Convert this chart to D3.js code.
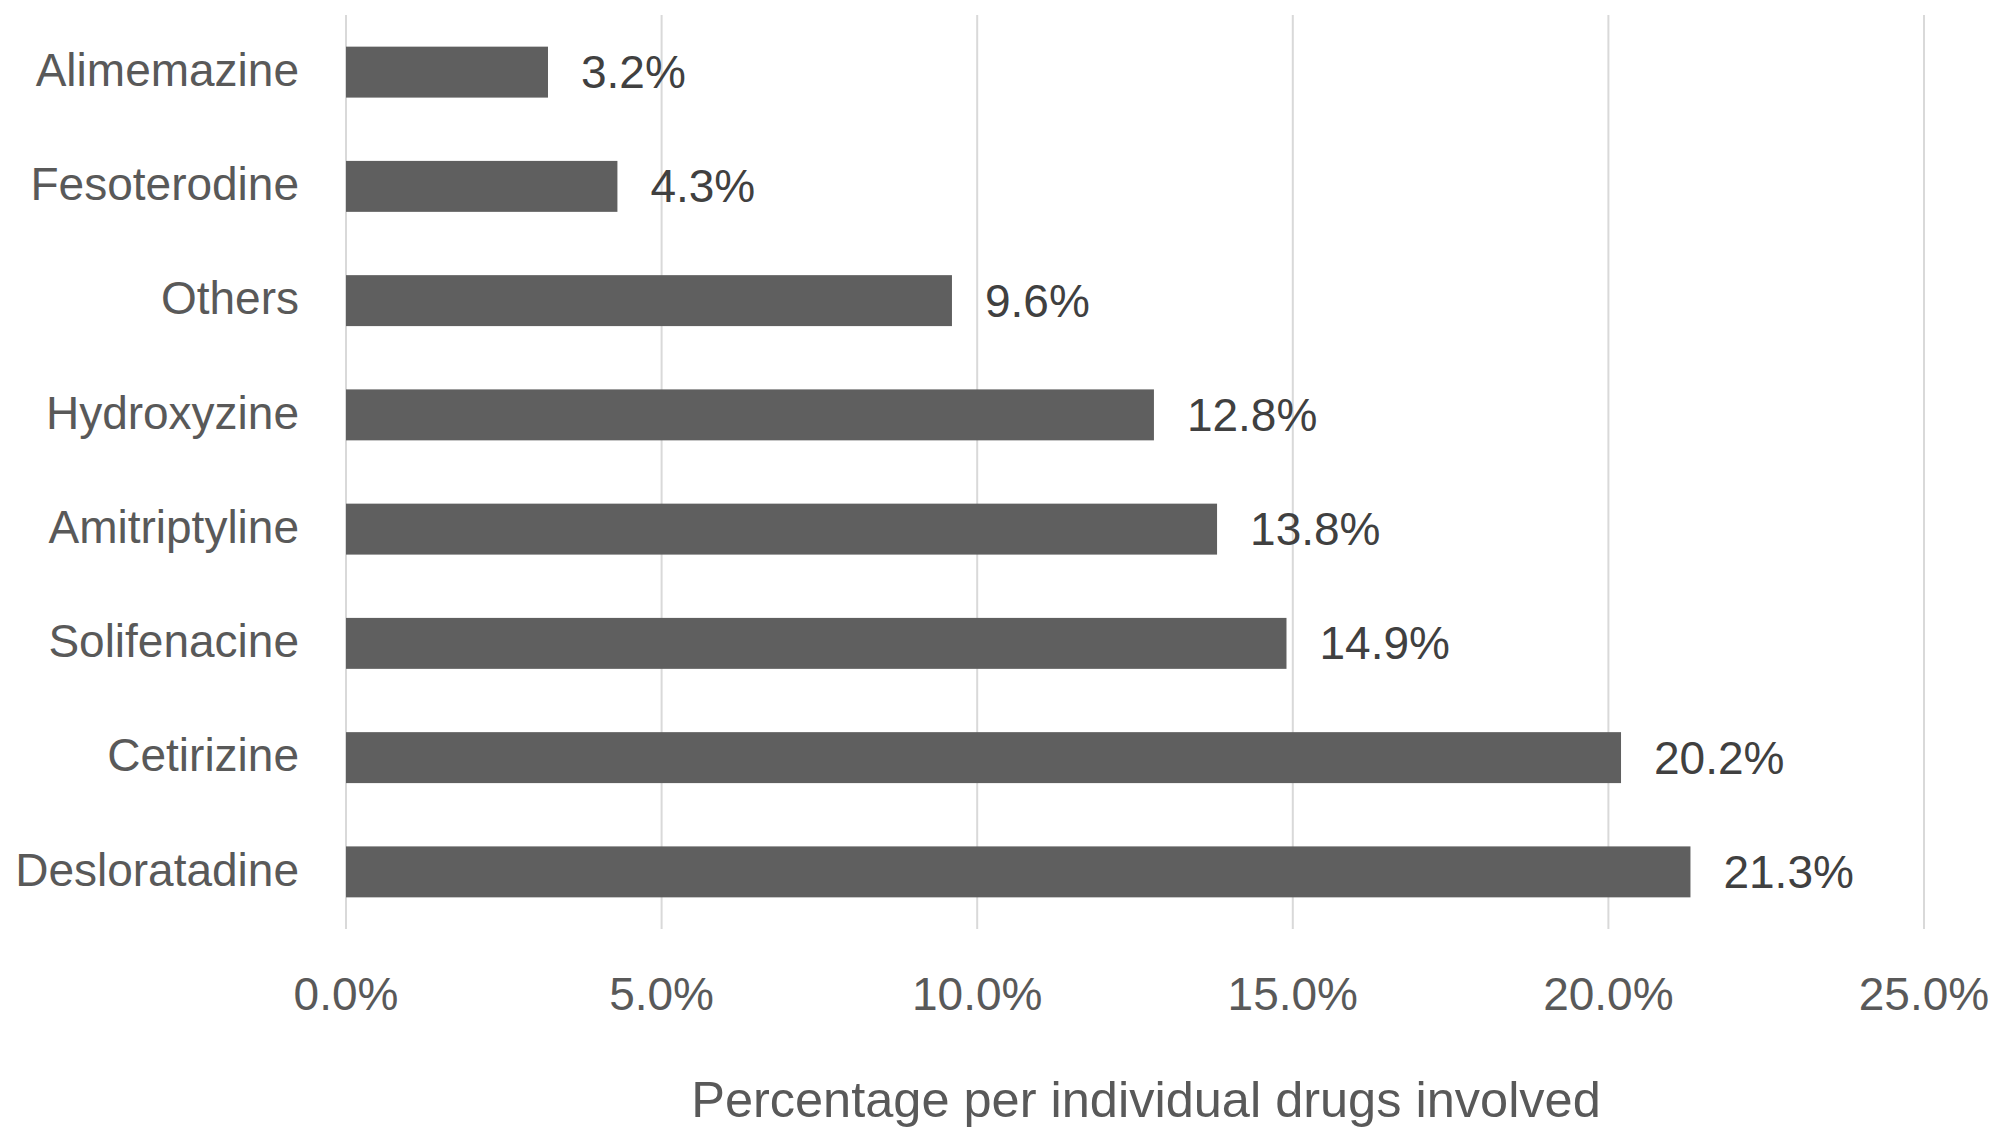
<!DOCTYPE html>
<html>
<head>
<meta charset="utf-8">
<script src="https://cdn.jsdelivr.net/npm/d3@7"></script>
<style>
  html, body { margin: 0; padding: 0; background: #fff; }
  svg { display: block; }
</style>
</head>
<body>
<script>
// values (percent)
var drugs = ["Alimemazine", "Fesoterodine", "Others", "Hydroxyzine", "Amitriptyline", "Solifenacine", "Cetirizine", "Desloratadine"];
var shares = [3.2, 4.3, 9.6, 12.8, 13.8, 14.9, 20.2, 21.3];
var xTicks = [0, 5, 10, 15, 20, 25];
var xTitle = "Percentage per individual drugs involved";

var width = 1999, height = 1139;
var plotLeft = 346, plotRight = 1924, plotTop = 15, plotBottom = 929;

var svg = d3.select("body").append("svg")
    .attr("width", width)
    .attr("height", height)
    .attr("font-family", "'Liberation Sans', Arial, sans-serif");

var x = d3.scaleLinear().domain([0, 25]).range([plotLeft, plotRight]);
var y = d3.scaleBand().domain(drugs).range([plotTop, plotBottom])
    .paddingInner(0.554).paddingOuter(0.277);

var fmt = d3.format(".1f");

// gridlines
svg.append("g")
    .selectAll("line")
    .data(xTicks)
    .join("line")
    .attr("x1", d => x(d)).attr("x2", d => x(d))
    .attr("y1", plotTop).attr("y2", plotBottom)
    .attr("stroke", "#d9d9d9")
    .attr("stroke-width", 2);

// tick labels
svg.append("g")
    .selectAll("text")
    .data(xTicks)
    .join("text")
    .attr("x", d => x(d))
    .attr("y", 1010)
    .attr("text-anchor", "middle")
    .attr("font-size", 46)
    .attr("fill", "#595959")
    .text(d => fmt(d) + "%");

// bars
svg.append("g")
    .selectAll("rect")
    .data(drugs)
    .join("rect")
    .attr("x", x(0))
    .attr("y", d => y(d))
    .attr("width", (d, i) => x(shares[i]) - x(0))
    .attr("height", y.bandwidth())
    .attr("fill", "#5f5f5f");

// value labels
svg.append("g")
    .selectAll("text")
    .data(drugs)
    .join("text")
    .attr("x", (d, i) => x(shares[i]) + 33)
    .attr("y", d => y(d) + y.bandwidth() / 2)
    .attr("dy", "0.35em")
    .attr("font-size", 46)
    .attr("fill", "#404040")
    .text((d, i) => fmt(shares[i]) + "%");

// category labels
svg.append("g")
    .selectAll("text")
    .data(drugs)
    .join("text")
    .attr("x", plotLeft - 47)
    .attr("y", d => y(d) + y.bandwidth() / 2)
    .attr("dy", "0.3em")
    .attr("text-anchor", "end")
    .attr("font-size", 46)
    .attr("fill", "#595959")
    .text(d => d);

// axis title
svg.append("text")
    .attr("x", 1146)
    .attr("y", 1117)
    .attr("text-anchor", "middle")
    .attr("font-size", 50.5)
    .attr("fill", "#595959")
    .text(xTitle);
</script>
</body>
</html>
